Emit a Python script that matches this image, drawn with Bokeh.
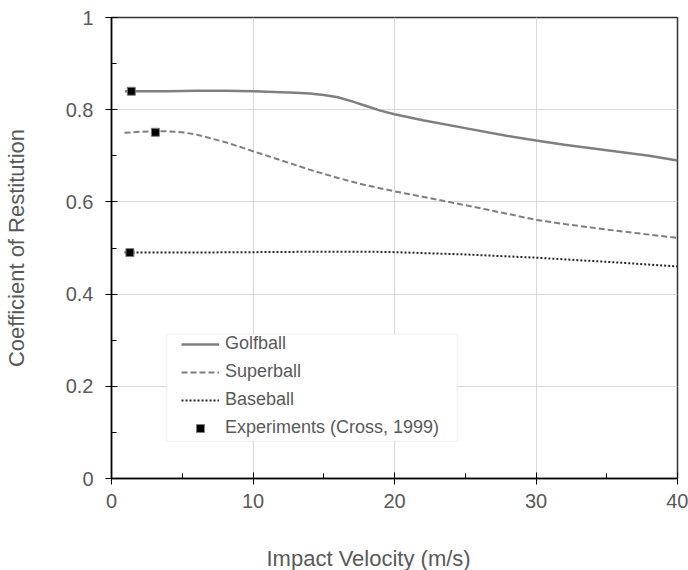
from bokeh.plotting import figure
from bokeh.models import (FixedTicker, NumeralTickFormatter, BoxAnnotation,
                          Range1d, Legend, Title)
from bokeh.embed import file_html
from bokeh.resources import INLINE

# ---- data ----
golf_x = [0.95, 2, 4, 6, 8, 10, 12, 13, 14, 15, 16, 17, 18, 19, 20, 22, 25, 28, 30, 32, 35, 38, 40]
golf_y = [0.840, 0.840, 0.840, 0.841, 0.841, 0.840, 0.838, 0.837, 0.835, 0.832, 0.827, 0.818,
          0.808, 0.798, 0.790, 0.777, 0.760, 0.743, 0.733, 0.724, 0.712, 0.700, 0.690]

super_x = [0.92, 2, 3, 4, 5, 6, 8, 10, 12, 14, 16, 18, 20, 22, 25, 28, 30, 32, 35, 38, 40]
super_y = [0.750, 0.752, 0.753, 0.753, 0.751, 0.746, 0.730, 0.710, 0.690, 0.670, 0.652,
           0.636, 0.623, 0.611, 0.593, 0.574, 0.561, 0.552, 0.540, 0.529, 0.522]

base_x = [0.92, 5, 10, 15, 18, 20, 25, 30, 35, 40]
base_y = [0.490, 0.490, 0.491, 0.492, 0.492, 0.491, 0.486, 0.479, 0.470, 0.460]

exp_x = [1.4, 3.1, 1.3]
exp_y = [0.840, 0.751, 0.490]

x_ticks = [0, 10, 20, 30, 40]
x_minor = [5, 15, 25, 35]
y_ticks = [0, 0.2, 0.4, 0.6, 0.8, 1.0]
y_minor = [0.1, 0.3, 0.5, 0.7, 0.9]

FONT = "Liberation Sans"
TXT = "#595959"

p = figure(width=688, height=570, output_backend="svg", toolbar_location=None,
           x_range=Range1d(0, 40), y_range=Range1d(0, 1),
           min_border_left=110, min_border_right=11, min_border_top=17, min_border_bottom=92)
p.background_fill_color = "white"
p.border_fill_color = "white"
p.outline_line_color = "#333333"
p.outline_line_width = 1.5

for ax, maj, mnr in ((p.xaxis[0], x_ticks, x_minor), (p.yaxis[0], y_ticks, y_minor)):
    ax.ticker = FixedTicker(ticks=maj, minor_ticks=mnr)
    ax.axis_line_color = "#000000"
    ax.axis_line_width = 1.5
    ax.major_tick_line_color = "#000000"
    ax.minor_tick_line_color = "#000000"
    ax.major_tick_in = 6
    ax.major_tick_out = 6
    ax.minor_tick_in = 5
    ax.minor_tick_out = 0
    ax.major_label_text_font = FONT
    ax.major_label_text_font_size = "20px"
    ax.major_label_text_color = TXT
p.yaxis[0].formatter = NumeralTickFormatter(format="0.[0]")
p.yaxis[0].major_label_standoff = 12
p.xaxis[0].major_label_standoff = 9

yax = p.yaxis[0]
yax.axis_label = "Coefficient of Restitution"
yax.axis_label_text_font = FONT
yax.axis_label_text_font_size = "22px"
yax.axis_label_text_font_style = "normal"
yax.axis_label_text_color = TXT
yax.axis_label_standoff = 34

# blank, tiny x-axis label used only as vertical room before the axis title below
xax = p.xaxis[0]
xax.axis_label = " "
xax.axis_label_text_font_size = "1px"
xax.axis_label_standoff = 29

p.xgrid.ticker = FixedTicker(ticks=x_ticks)
p.ygrid.ticker = FixedTicker(ticks=y_ticks)
p.grid.grid_line_color = "#d9d9d9"
p.grid.grid_line_width = 1

# legend box
p.add_layout(BoxAnnotation(left=3.90, right=24.44, bottom=0.081, top=0.313,
                           fill_color="white", fill_alpha=1.0,
                           line_color="#d9d9d9", line_width=1.5, level="underlay"))

r1 = p.line(golf_x, golf_y, line_color="#7f7f7f", line_width=2.5)
r2 = p.line(super_x, super_y, line_color="#7f7f7f", line_width=2, line_dash="6 3")
r3 = p.line(base_x, base_y, line_color="#262626", line_width=2, line_dash="2 2")
r4 = p.scatter(exp_x, exp_y, marker="square", size=8, fill_color="black",
               line_color="#7f7f7f", line_width=1)

legend = Legend(items=[("Golfball", [r1]), ("Superball", [r2]), ("Baseball", [r3]),
                       ("Experiments (Cross, 1999)", [r4])],
                location=(67, 37), padding=3, spacing=7, margin=0,
                label_height=20, glyph_height=20, glyph_width=38, label_standoff=6,
                label_text_font=FONT, label_text_font_size="18px", label_text_color=TXT,
                border_line_alpha=0, background_fill_alpha=0)
p.add_layout(legend)

xt = Title(text="Impact Velocity (m/s)", align="left", offset=155, standoff=0,
           text_font=FONT, text_font_size="22px", text_font_style="normal", text_color=TXT)
p.add_layout(xt, "below")

open("out.html", "w").write(file_html(p, INLINE))
